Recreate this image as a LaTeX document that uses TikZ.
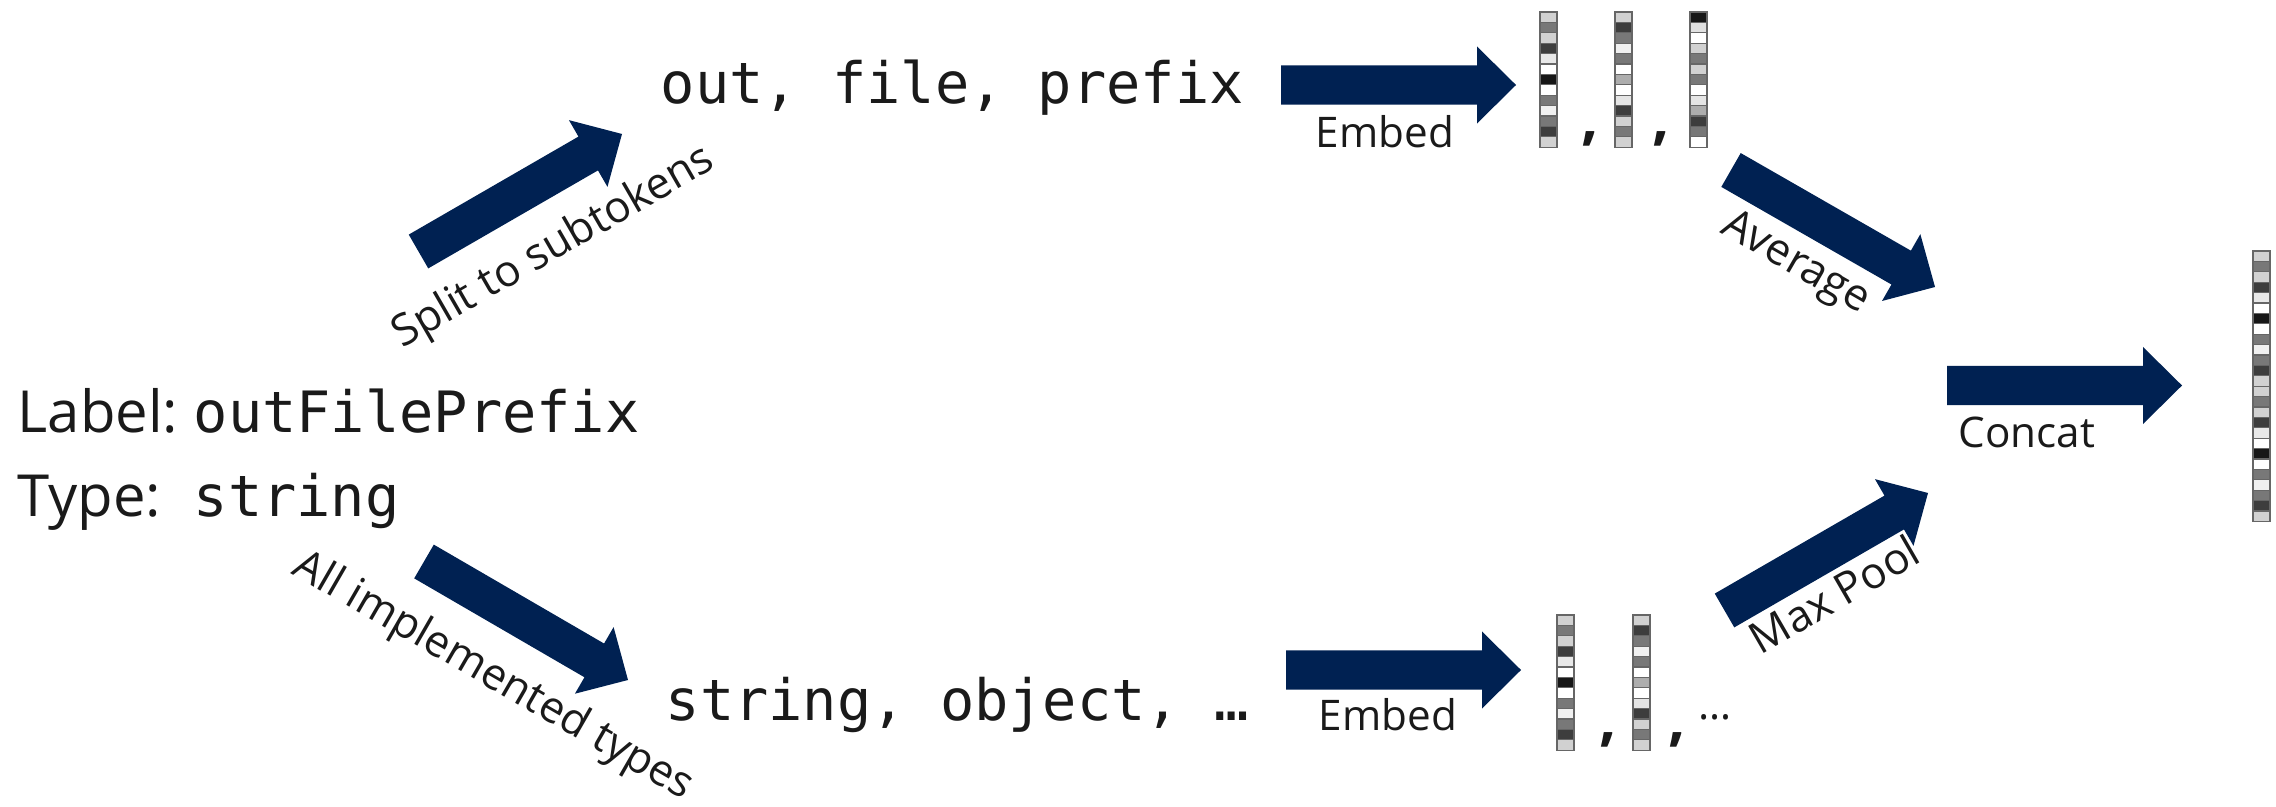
\documentclass[tikz,border=0pt]{standalone}
\usepackage{fontspec}
\setmainfont{Open Sans}
\setmonofont{DejaVu Sans Mono}
\usetikzlibrary{calc}

\definecolor{navy}{HTML}{002152}
\definecolor{ink}{HTML}{1A1A1A}

\tikzset{
  lbl/.style={font=\fontsize{12}{14}\selectfont, inner sep=0pt, text=ink},
  slant/.style={font=\fontsize{12.4}{14}\selectfont, inner sep=0pt, text=ink},
  big/.style={font=\fontsize{16.5}{20}\selectfont, inner sep=0pt, text=ink, anchor=base west},
  code/.style={font=\ttfamily\fontsize{16.2}{20}\selectfont, inner sep=0pt, text=ink, anchor=base west},
  cell/.style={draw=black!60, line width=0.35pt},
  sepmark/.style={font=\bfseries\fontsize{17}{20}\selectfont, inner sep=0pt, text=ink, anchor=base},
}

% block arrow between two named coordinates (tail centre -> tip)
\newcommand\blockarrow[2]{%
  \coordinate (#1#2m) at ($(#2)!0.39cm!(#1)$);
  \fill[navy] ($(#1)!0.195cm!90:(#2)$) -- ($(#1#2m)!0.195cm!90:(#2)$)
    -- ($(#1#2m)!0.385cm!90:(#2)$) -- (#2)
    -- ($(#1#2m)!0.385cm!-90:(#2)$) -- ($(#1#2m)!0.195cm!-90:(#2)$)
    -- ($(#1)!0.195cm!-90:(#2)$) -- cycle;}

% column of grey cells: left x, top y, list macro of black percentages
\newcommand\embedvec[3]{%
  \foreach \g [count=\i from 0] in #3
    \draw[cell, fill=black!\g] (#1,{#2+\i*10.4}) rectangle ++(17,10.4);}

\def\vecA{18,53,18,76,9,0,91,0,53,6,53,76,18}
\def\vecB{18,76,53,6,53,0,32,0,10,76,18,53,18}
\def\vecC{91,12,0,18,53,18,53,0,10,32,76,53,0}
\edef\vecAA{\vecA,\vecA}

\begin{document}
\begin{tikzpicture}[x=0.01cm, y=-0.01cm]
\useasboundingbox (0,0) rectangle (2276,807);

% input description
\node[big]  (lab)  at (17,433) {Label:};
\node[code] (labv) at (193,433) {outFilePrefix};
\node[big]  (typ)  at (17,517) {Type:};
\node[code] (typv) at (193,517) {string};

% token lists
\node[code] (subt) at (660,104) {out, file, prefix};
\node[code] (impl) at (665,721) {string, object, …};

% arrow end points
\coordinate (splitS) at (418.5,251.5);  \coordinate (splitE) at (622,134);
\coordinate (typesS) at (424,561.5);    \coordinate (typesE) at (628,680);
\coordinate (embAS)  at (1281,85);      \coordinate (embAE)  at (1516,85);
\coordinate (embBS)  at (1286,670);     \coordinate (embBE)  at (1521,670);
\coordinate (avgS)   at (1731,170);     \coordinate (avgE)   at (1935,287);
\coordinate (poolS)  at (1724.5,610.5); \coordinate (poolE)  at (1928,493);
\coordinate (catS)   at (1947,385.5);   \coordinate (catE)   at (2182,385.5);

\blockarrow{splitS}{splitE}
\blockarrow{typesS}{typesE}
\blockarrow{embAS}{embAE}
\blockarrow{embBS}{embBE}
\blockarrow{avgS}{avgE}
\blockarrow{poolS}{poolE}
\blockarrow{catS}{catE}

% arrow labels
\node[slant, rotate=30]  (splitL) at (554,248) {Split to subtokens};
\node[slant, rotate=-30] (typesL) at (493,677) {All implemented types};
\node[lbl, anchor=base] (embAL) at (1385,148) {Embed};
\node[lbl, anchor=base] (embBL) at (1388,730) {Embed};
\node[slant, rotate=-30] (avgL)  at (1795,264) {Average};
\node[slant, rotate=30]  (poolL) at (1834,594) {Max Pool};
\node[lbl, anchor=base] (catL) at (2027,448) {Concat};

% subtoken embeddings
\embedvec{1540}{12}{\vecA}
\embedvec{1615}{12}{\vecB}
\embedvec{1690}{12}{\vecC}
\node[sepmark] (cA1) at (1590,139) {,};
\node[sepmark] (cA2) at (1661,139) {,};

% type embeddings
\embedvec{1557}{615}{\vecA}
\embedvec{1633}{615}{\vecB}
\node[sepmark] (cB1) at (1608,739) {,};
\node[sepmark] (cB2) at (1677,739) {,};
\node[lbl, anchor=base west] (more) at (1698,719) {…};

% concatenated result
\embedvec{2253}{251}{\vecAA}
\end{tikzpicture}
\end{document}
